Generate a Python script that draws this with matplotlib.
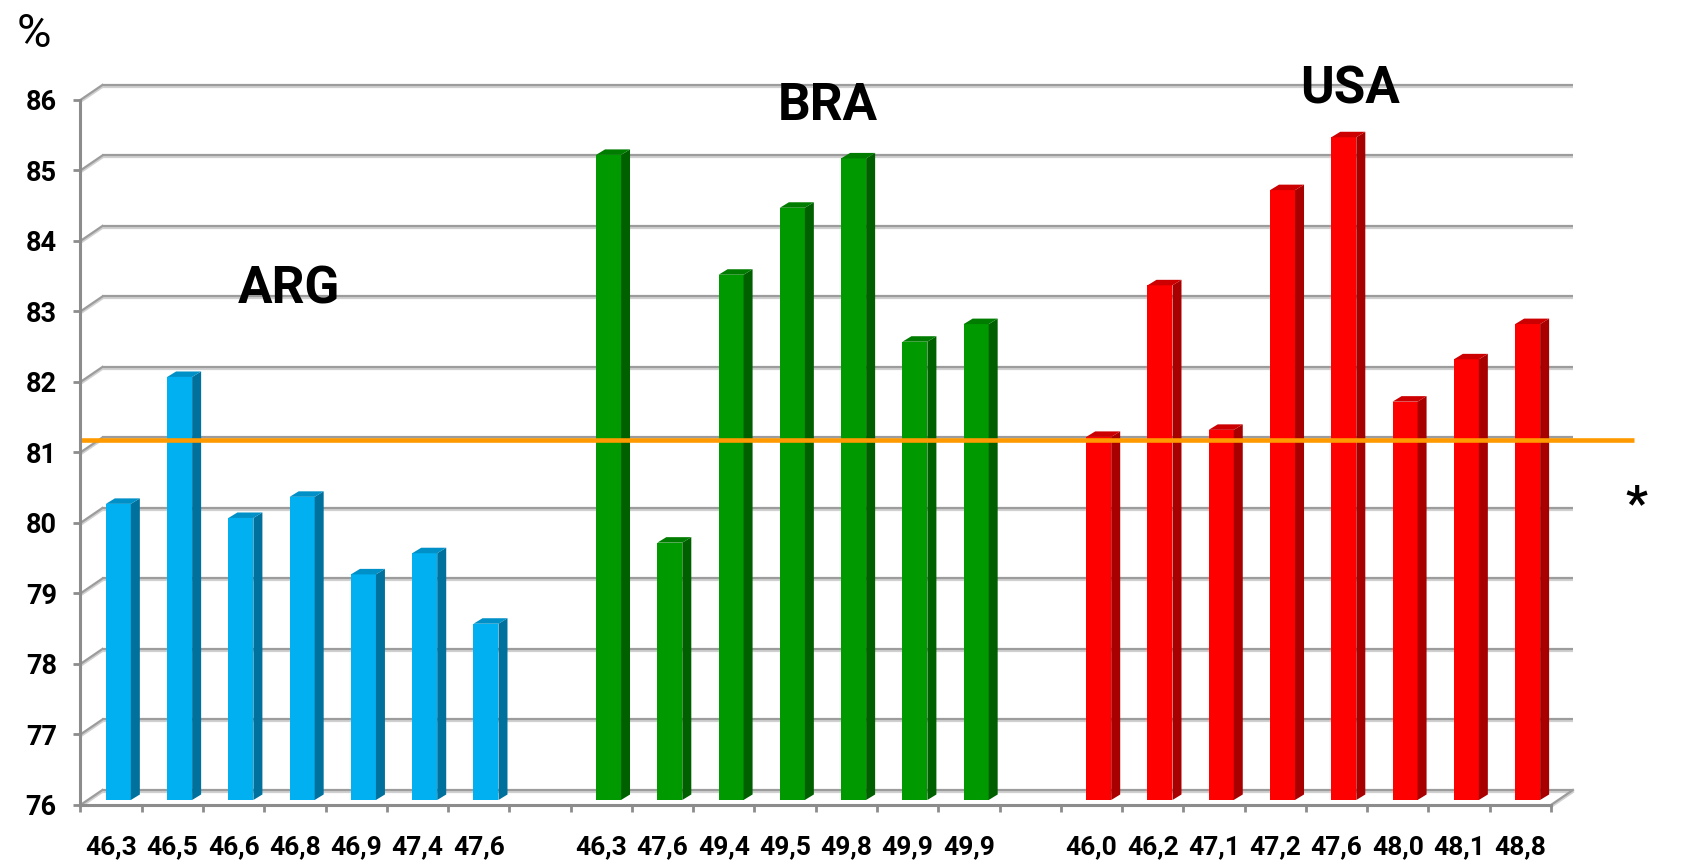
import numpy as np
import matplotlib.pyplot as plt
import matplotlib.patheffects as pe
from matplotlib.patches import Polygon

plt.rcParams['font.family'] = ['Roboto', 'DejaVu Sans']

# datos por país
groups = ['ARG', 'BRA', 'USA']
arg_labels = ['46,3', '46,5', '46,6', '46,8', '46,9', '47,4', '47,6']
arg_values = [80.2, 82.0, 80.0, 80.3, 79.2, 79.5, 78.5]
bra_labels = ['46,3', '47,6', '49,4', '49,5', '49,8', '49,9', '49,9']
bra_values = [85.15, 79.65, 83.45, 84.4, 85.1, 82.5, 82.75]
usa_labels = ['46,0', '46,2', '47,1', '47,2', '47,6', '48,0', '48,1', '48,8']
usa_values = [81.15, 83.3, 81.25, 84.65, 85.4, 81.65, 82.25, 82.75]
reference = 81.1
y_ticks = list(range(76, 87))

# colores: frente, lateral, tapa
colors = {
    'ARG': ('#00b0f0', '#00709c', '#0090c8'),
    'BRA': ('#009900', '#006000', '#007c00'),
    'USA': ('#ff0000', '#a80000', '#cc0000'),
}
# posicion de los rótulos de cada grupo (x en categorías, y en %)
group_label_pos = {'ARG': (3.40, 83.12), 'BRA': (12.20, 85.72), 'USA': (20.72, 85.95)}

fig = plt.figure(figsize=(16.93, 8.64), dpi=100)
ax = fig.add_axes([0.0475, 0.0683, 0.8686, 0.816])
ax.set_xlim(0, 24)
ax.set_ylim(76, 86)

# conversion de pixeles a unidades de datos
px_x = 24 / (0.8686 * 1693)
px_y = 10 / (0.816 * 864)
wall_dx, wall_dy = 22 * px_x, 15 * px_y     # profundidad del fondo
shift_dx, shift_dy = 7.3 * px_x, 5 * px_y   # plano de las barras
bar_dx, bar_dy = 9 * px_x, 5.5 * px_y       # grosor de la barra
bar_w = 0.408

grid_fx = [pe.SimpleLineShadow(offset=(0, -1.4), shadow_color='#d0d0d0', alpha=1),
           pe.Normal()]

# lineas de la grilla (pared del fondo)
for v in y_ticks:
    ax.plot([wall_dx, 24 + wall_dx], [v + wall_dy, v + wall_dy], color='#9c9c9c',
            lw=1.6, clip_on=False, zorder=1, path_effects=grid_fx, solid_capstyle='butt')
    ax.plot([0, wall_dx], [v, v + wall_dy], color='#9c9c9c', lw=1.6,
            clip_on=False, zorder=1, path_effects=grid_fx)
ax.plot([24, 24 + wall_dx], [76, 76 + wall_dy], color='#9c9c9c', lw=1.6,
        clip_on=False, zorder=1, path_effects=grid_fx)

# barras
series = [('ARG', arg_labels, arg_values), ('BRA', bra_labels, bra_values),
          ('USA', usa_labels, usa_values)]
start = 0
tick_pos = []
tick_lab = []
for name, labels, values in series:
    front, side, top = colors[name]
    xs = start + np.arange(len(values)) + 0.5
    vals = np.array(values)
    ax.bar(xs + shift_dx, vals - 76, bar_w, bottom=76 + shift_dy, color=front,
           zorder=3, linewidth=0)
    for x, v in zip(xs, vals):
        left = x + shift_dx - bar_w / 2
        right = left + bar_w
        b = 76 + shift_dy
        t = v + shift_dy
        ax.add_patch(Polygon([(right, b), (right, t), (right + bar_dx, t + bar_dy),
                              (right + bar_dx, b + bar_dy)], closed=True,
                             facecolor=side, edgecolor='none', zorder=3))
        ax.add_patch(Polygon([(left, t), (right, t), (right + bar_dx, t + bar_dy),
                              (left + bar_dx, t + bar_dy)], closed=True,
                             facecolor=top, edgecolor='none', zorder=3))
    tick_pos.extend(xs)
    tick_lab.extend(labels)
    gx, gy = group_label_pos[name]
    ax.text(gx, gy, name, ha='center', va='baseline', fontsize=37,
            fontweight='bold', zorder=5)
    start += len(values) + 1

# linea de referencia
ax.hlines(reference + shift_dy, 0, 25.36, color='#ff9900', lw=3.3,
          clip_on=False, zorder=4)
ax.text(25.39, 80.07, '*', ha='center', va='baseline', fontsize=35,
        fontweight='bold')

# ejes
for s in ['top', 'right']:
    ax.spines[s].set_visible(False)
for s in ['left', 'bottom']:
    ax.spines[s].set_color('#8c8c8c')
    ax.spines[s].set_linewidth(2.2)
    ax.spines[s].set_zorder(4)

ax.set_yticks(y_ticks)
ax.set_yticklabels([str(v) for v in y_ticks], fontsize=19.5, fontweight='bold')
ax.tick_params(axis='y', length=5, width=2, color='#8c8c8c', pad=12)

ax.set_xticks(np.arange(25))
ax.set_xticklabels([])
ax.tick_params(axis='x', which='major', length=5, width=2, color='#8c8c8c')
ax.set_xticks(tick_pos, minor=True)
ax.set_xticklabels(tick_lab, minor=True, fontsize=19, fontweight='bold')
ax.tick_params(axis='x', which='minor', length=0, pad=22)

fig.text(34 / 1693, 1 - 46.7 / 864, '%', ha='center', va='baseline', fontsize=34)

fig.savefig('out.png', dpi=100)
